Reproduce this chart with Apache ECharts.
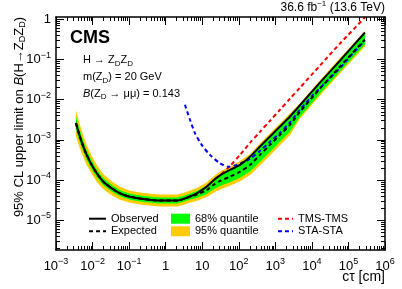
<!DOCTYPE html>
<html><head><meta charset="utf-8">
<script src="https://cdn.jsdelivr.net/npm/echarts@6/dist/echarts.min.js"></script>
<style>html,body{margin:0;padding:0;background:#fff}#c{width:402px;height:289px}</style>
</head><body><div id="c"></div>
<script>
// ---- data ----
const ctau = [0.0035, 0.0045, 0.0056, 0.0069, 0.0095, 0.013, 0.0197, 0.0334, 0.0563, 0.106, 0.244, 0.70, 2.0, 3.03, 4.63, 7.06, 13.2, 20.1, 30.6, 57.4, 108, 203, 380, 714, 1340, 2510, 4720, 16600, 58600, 283000];
const observed = [2.616e-3, 1.209e-3, 6.80e-4, 4.22e-4, 2.37e-4, 1.471e-4, 9.07e-5, 6.20e-5, 4.65e-5, 3.82e-5, 3.35e-5, 3.07e-5, 3.07e-5, 3.35e-5, 3.87e-5, 4.65e-5, 6.80e-5, 9.72e-5, 1.296e-4, 1.778e-4, 2.37e-4, 3.82e-4, 6.80e-4, 1.209e-3, 2.15e-3, 3.82e-3, 7.29e-3, 0.0266, 0.0944, 0.473];
const expected = [2.616e-3, 1.209e-3, 6.80e-4, 4.22e-4, 2.37e-4, 1.471e-4, 9.07e-5, 6.20e-5, 4.65e-5, 3.82e-5, 3.35e-5, 3.07e-5, 3.07e-5, 3.35e-5, 3.87e-5, 4.34e-5, 5.62e-5, 7.50e-5, 9.44e-5, 1.209e-4, 1.612e-4, 2.37e-4, 4.22e-4, 7.50e-4, 1.334e-3, 2.37e-3, 5.01e-3, 0.01884, 0.0668, 0.316];
const q68hi = [3.80e-3, 1.708e-3, 9.33e-4, 5.62e-4, 3.07e-4, 1.851e-4, 1.109e-4, 7.50e-5, 5.53e-5, 4.54e-5, 3.98e-5, 3.65e-5, 3.65e-5, 3.98e-5, 4.60e-5, 5.31e-5, 7.29e-5, 1.0e-4, 1.334e-4, 1.809e-4, 2.413e-4, 3.76e-4, 6.68e-4, 1.189e-3, 2.113e-3, 3.76e-3, 7.08e-3, 0.0266, 0.0944, 0.447];
const q68lo = [1.80e-3, 8.56e-4, 4.95e-4, 3.16e-4, 1.830e-4, 1.168e-4, 7.41e-5, 5.13e-5, 3.91e-5, 3.22e-5, 2.82e-5, 2.59e-5, 2.59e-5, 2.82e-5, 3.25e-5, 3.55e-5, 4.47e-5, 5.79e-5, 7.08e-5, 8.81e-5, 1.142e-4, 1.631e-4, 2.82e-4, 5.01e-4, 8.91e-4, 1.585e-3, 3.76e-3, 0.01413, 0.0501, 0.237];
const q95hi = [5.53e-3, 2.413e-3, 1.281e-3, 7.50e-4, 3.98e-4, 2.40e-4, 1.396e-4, 9.28e-5, 6.76e-5, 5.40e-5, 4.73e-5, 4.34e-5, 4.34e-5, 4.73e-5, 5.46e-5, 6.31e-5, 8.66e-5, 1.223e-4, 1.631e-4, 2.15e-4, 2.95e-4, 4.47e-4, 8.18e-4, 1.454e-3, 2.585e-3, 4.60e-3, 8.18e-3, 0.0307, 0.1090, 0.516];
const q95lo = [1.237e-3, 6.06e-4, 3.61e-4, 2.37e-4, 1.413e-4, 9.02e-5, 5.89e-5, 4.15e-5, 3.20e-5, 2.71e-5, 2.37e-5, 2.18e-5, 2.18e-5, 2.37e-5, 2.74e-5, 2.99e-5, 3.76e-5, 4.73e-5, 5.79e-5, 7.20e-5, 9.33e-5, 1.334e-4, 2.30e-4, 4.10e-4, 7.29e-4, 1.296e-3, 3.35e-3, 0.01259, 0.0447, 0.211];
const tmsTms = [2.616e-3, 1.209e-3, 6.80e-4, 4.22e-4, 2.37e-4, 1.471e-4, 9.07e-5, 6.20e-5, 4.65e-5, 3.82e-5, 3.35e-5, 3.07e-5, 3.07e-5, 3.35e-5, 3.87e-5, 4.65e-5, 6.80e-5, 9.72e-5, 1.296e-4, 2.24e-4, 4.22e-4, 8.41e-4, 1.585e-3, 2.985e-3, 5.62e-3, 0.01059, 0.01995, 0.0708, 0.251, 1.122];
const staCtau = [3.37, 4.63, 6.34, 9.66, 16.3, 30.6, 51.6, 87.7, 202.5, 380, 714, 1339, 2514, 4721, 10900, 25400, 58640, 135500, 283000];
const staSta = [7.50e-3, 3.16e-3, 1.471e-3, 7.50e-4, 4.22e-4, 2.616e-4, 2.15e-4, 2.37e-4, 3.35e-4, 5.31e-4, 8.91e-4, 1.496e-3, 2.74e-3, 5.62e-3, 0.01334, 0.0287, 0.0620, 0.147, 0.2985];

const xTicks = [1e-3, 1e-2, 1e-1, 1, 10, 100, 1e3, 1e4, 1e5, 1e6];
const xTickBase = ['10', '10', '10', '1', '10', '10', '10', '10', '10', '10'];
const xTickExp = ['\u22123', '\u22122', '\u22121', '', '', '2', '3', '4', '5', '6'];
const yTicks = [1e-5, 1e-4, 1e-3, 1e-2, 1e-1, 1];
const yTickBase = ['10', '10', '10', '10', '10', '1'];
const yTickExp = ['\u22125', '\u22124', '\u22123', '\u22122', '\u22121', ''];

const X_MIN = 1e-3, X_MAX = 1e6, Y_MIN = 1.8e-6, Y_MAX = 1.15;

function minors(lo, hi) {
  const out = [];
  for (let e = -7; e <= 6; e++) for (let m = 2; m <= 9; m++) {
    const v = m * Math.pow(10, e);
    if (v > lo && v < hi) out.push(v);
  }
  return out;
}
const xMinor = minors(X_MIN, X_MAX), yMinor = minors(Y_MIN, Y_MAX);

const FONT = 'Liberation Sans, Arial, Helvetica, sans-serif';
const labelRich = {
  b: {fontSize: 13, fontFamily: FONT, color: '#000', lineHeight: 18},
  s: {fontSize: 9, fontFamily: FONT, color: '#000', lineHeight: 9, verticalAlign: 'top'}
};
function idxOf(arr, v) {
  let best = 0;
  arr.forEach((t, i) => { if (Math.abs(Math.log10(t) - Math.log10(v)) < Math.abs(Math.log10(arr[best]) - Math.log10(v))) best = i; });
  return best;
}
function fmtX(v) { const i = idxOf(xTicks, v); return '{b|' + xTickBase[i] + '}' + (xTickExp[i] ? '{s|' + xTickExp[i] + '}' : ''); }
function fmtY(v) { const i = idxOf(yTicks, v); return '{b|' + yTickBase[i] + '}' + (yTickExp[i] ? '{s|' + yTickExp[i] + '}' : ''); }

function xAx(pos, major, labels) {
  return {
    type: 'log', logBase: 10, min: X_MIN, max: X_MAX, position: pos, z: 10,
    axisLine: {show: major, onZero: false, lineStyle: {color: '#000', width: 1.5}},
    axisTick: {show: true, inside: true, length: major ? 8 : 4, customValues: major ? xTicks : xMinor, lineStyle: {color: '#000', width: 1}},
    axisLabel: labels ? {show: true, customValues: xTicks, formatter: fmtX, rich: labelRich, margin: 7} : {show: false},
    splitLine: {show: false}, minorTick: {show: false}
  };
}
function yAx(pos, major, labels) {
  return {
    type: 'log', logBase: 10, min: Y_MIN, max: Y_MAX, position: pos, z: 10,
    axisLine: {show: major, onZero: false, lineStyle: {color: '#000', width: 1.5}},
    axisTick: {show: true, inside: true, length: major ? 8 : 4, customValues: major ? yTicks : yMinor, lineStyle: {color: '#000', width: 1}},
    axisLabel: labels ? {show: true, customValues: yTicks, formatter: fmtY, rich: labelRich, margin: 5} : {show: false},
    splitLine: {show: false}, minorTick: {show: false}
  };
}

function band(name, hi, lo, color, z) {
  return {
    type: 'custom', name: name, xAxisIndex: 0, yAxisIndex: 0, z: z, clip: true,
    itemStyle: {color: color},
    data: [[ctau[0], hi[0]]],
    renderItem: function (params, api) {
      const pts = [];
      for (let i = 0; i < ctau.length; i++) pts.push(api.coord([ctau[i], hi[i]]));
      for (let i = ctau.length - 1; i >= 0; i--) pts.push(api.coord([ctau[i], lo[i]]));
      return {type: 'polygon', shape: {points: pts}, style: {fill: color, stroke: null}};
    }
  };
}
function line(name, xs, ys, color, dash, z) {
  return {
    type: 'line', name: name, xAxisIndex: 0, yAxisIndex: 0, z: z,
    data: xs.map((x, i) => [x, ys[i]]), symbol: 'none', smooth: 0.25,
    lineStyle: {color: color, width: 2, type: dash}, itemStyle: {color: color},
    emphasis: {disabled: true}
  };
}

const sub = {fontSize: 8, fontFamily: FONT, fill: '#000', lineHeight: 8, verticalAlign: 'bottom'};
const base11 = {fontSize: 11, fontFamily: FONT, fill: '#000', lineHeight: 15};
const legText = {fontSize: 11, fontFamily: FONT, color: '#000', lineHeight: 12};

const chart = echarts.init(document.getElementById('c'), null, {renderer: 'canvas'});
chart.setOption({
  animation: false,
  backgroundColor: '#fff',
  grid: {left: 56, right: 17, top: 17, bottom: 39, containLabel: false},
  xAxis: [xAx('bottom', true, true), xAx('bottom', false, false), xAx('top', true, false), xAx('top', false, false)],
  yAxis: [yAx('left', true, true), yAx('left', false, false), yAx('right', true, false), yAx('right', false, false)],
  legend: [
    {data: ['Observed', 'Expected'], left: 88, top: 212.7, padding: 0, orient: 'vertical', itemWidth: 17, itemHeight: 10, itemGap: 0.6,
     itemStyle: {opacity: 0}, selectedMode: false, z: 20, textStyle: legText},
    {data: [{name: '68% quantile', icon: 'rect', itemStyle: {color: '#00ff00'}}, {name: '95% quantile', icon: 'rect', itemStyle: {color: '#ffcc00'}}],
     left: 171, top: 212.7, padding: 0, orient: 'vertical', itemWidth: 19, itemHeight: 10, itemGap: 0.6,
     selectedMode: false, z: 20, textStyle: legText},
    {data: ['TMS-TMS', 'STA-STA'], left: 277, top: 212.7, padding: 0, orient: 'vertical', itemWidth: 15, itemHeight: 10, itemGap: 0.6,
     itemStyle: {opacity: 0}, selectedMode: false, z: 20, textStyle: legText}
  ],
  series: [
    band('95% quantile', q95hi, q95lo, '#ffcc00', 1),
    band('68% quantile', q68hi, q68lo, '#00ff00', 2),
    line('TMS-TMS', ctau, tmsTms, '#ff0000', [4, 3], 3),
    line('STA-STA', staCtau, staSta, '#0000ff', [4, 3], 3),
    line('Expected', ctau, expected, '#000000', [4, 3], 4),
    line('Observed', ctau, observed, '#000000', 'solid', 5)
  ],
  graphic: [
    {type: 'text', x: 70, y: 38.5, z: 30, style: {text: 'CMS', font: 'bold 18px ' + FONT, fill: '#000', align: 'left', verticalAlign: 'middle'}},
    {type: 'text', x: 83, y: 60, z: 30, style: {text: '{a|H \u2192 Z}{s|D}{a|Z}{s|D}', rich: {a: base11, s: sub}, align: 'left', verticalAlign: 'middle'}},
    {type: 'text', x: 83, y: 77, z: 30, style: {text: '{a|m(Z}{s|D}{a|) = 20 GeV}', rich: {a: base11, s: sub}, align: 'left', verticalAlign: 'middle'}},
    {type: 'text', x: 83, y: 93.5, z: 30, style: {text: '{i|B}{a|(Z}{s|D}{a| \u2192 \u03bc\u03bc) = 0.143}', rich: {a: base11, s: sub, i: Object.assign({}, base11, {fontStyle: 'italic'})}, align: 'left', verticalAlign: 'middle'}},
    {type: 'text', x: 385, y: 8, z: 30, style: {text: '{a|36.6 fb}{p|\u22121}{a| (13.6 TeV)}',
      rich: {a: {fontSize: 12, fontFamily: FONT, fill: '#000', lineHeight: 17}, p: {fontSize: 8, fontFamily: FONT, fill: '#000', lineHeight: 8, verticalAlign: 'top'}},
      align: 'right', verticalAlign: 'middle'}},
    {type: 'text', x: 385, y: 277, z: 30, style: {text: 'c\u03c4 [cm]', font: '14px ' + FONT, fill: '#000', align: 'right', verticalAlign: 'middle'}},
    {type: 'text', x: 19, y: 17, rotation: Math.PI / 2, z: 30, style: {
      text: '{a|95% CL upper limit on }{i|B}{a|(H\u2192Z}{s|D}{a|Z}{s|D}{a|)}',
      rich: {a: {fontSize: 13, fontFamily: FONT, fill: '#000', lineHeight: 17}, i: {fontSize: 13, fontFamily: FONT, fontStyle: 'italic', fill: '#000', lineHeight: 17},
             s: {fontSize: 9, fontFamily: FONT, fill: '#000', lineHeight: 9, verticalAlign: 'bottom'}},
      align: 'right', verticalAlign: 'middle'}}
  ]
});
</script></body></html>
